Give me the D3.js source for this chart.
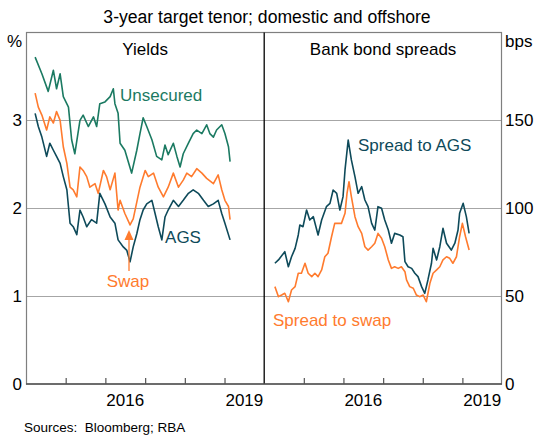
<!DOCTYPE html>
<html><head><meta charset="utf-8">
<script src="https://cdn.jsdelivr.net/npm/d3@7"></script>
<style>
body{margin:0;background:#fff;}
text{font-family:"Liberation Sans",Arial,sans-serif;}
</style></head>
<body><svg id="c" width="535" height="436"></svg>
<script>
// ---- data (decimal year, value) ----
const unsecured = [[2014.23,3.72],[2014.40,3.53],[2014.56,3.33],[2014.69,3.57],[2014.77,3.36],[2014.86,3.53],[2014.94,3.27],[2015.07,3.15],[2015.15,2.78],[2015.23,2.62],[2015.36,3.00],[2015.44,3.06],[2015.57,2.93],[2015.70,3.04],[2015.78,2.93],[2015.86,3.19],[2015.99,3.21],[2016.12,3.27],[2016.20,3.36],[2016.24,3.19],[2016.32,3.08],[2016.37,2.74],[2016.49,2.66],[2016.66,2.40],[2016.79,2.66],[2016.87,2.85],[2016.95,3.03],[2017.04,2.93],[2017.17,2.78],[2017.29,2.59],[2017.42,2.55],[2017.50,2.72],[2017.58,2.61],[2017.71,2.74],[2017.80,2.59],[2017.88,2.47],[2017.96,2.62],[2018.09,2.74],[2018.21,2.85],[2018.30,2.89],[2018.43,2.85],[2018.55,2.95],[2018.63,2.85],[2018.72,2.81],[2018.80,2.89],[2018.93,2.95],[2019.01,2.85],[2019.10,2.70],[2019.14,2.53]];
const swap = [[2014.23,3.31],[2014.31,3.15],[2014.40,3.06],[2014.52,2.89],[2014.60,3.04],[2014.69,2.97],[2014.77,3.10],[2014.86,3.00],[2014.94,2.70],[2015.03,2.51],[2015.11,2.24],[2015.19,2.21],[2015.28,2.13],[2015.36,2.47],[2015.44,2.43],[2015.53,2.36],[2015.61,2.24],[2015.74,2.28],[2015.82,2.17],[2015.95,2.43],[2016.03,2.36],[2016.12,2.21],[2016.24,2.40],[2016.32,1.98],[2016.37,2.09],[2016.49,1.94],[2016.62,1.81],[2016.70,1.88],[2016.87,2.24],[2017.00,2.43],[2017.08,2.36],[2017.21,2.40],[2017.33,2.24],[2017.46,2.13],[2017.58,2.24],[2017.71,2.40],[2017.84,2.24],[2017.96,2.32],[2018.05,2.40],[2018.17,2.36],[2018.30,2.45],[2018.43,2.40],[2018.55,2.34],[2018.72,2.28],[2018.84,2.38],[2018.93,2.21],[2019.01,2.09],[2019.10,2.02],[2019.14,1.87]];
const ags = [[2014.23,3.08],[2014.31,2.93],[2014.40,2.81],[2014.52,2.59],[2014.60,2.74],[2014.69,2.66],[2014.77,2.59],[2014.86,2.51],[2014.94,2.36],[2015.03,2.21],[2015.07,2.02],[2015.11,1.83],[2015.19,1.79],[2015.28,1.70],[2015.36,1.98],[2015.44,1.90],[2015.53,1.79],[2015.65,1.87],[2015.78,1.83],[2015.86,2.17],[2015.99,2.05],[2016.12,1.90],[2016.24,1.83],[2016.32,1.64],[2016.45,1.56],[2016.54,1.52],[2016.62,1.39],[2016.70,1.56],[2016.79,1.71],[2016.87,1.87],[2016.95,1.98],[2017.04,2.05],[2017.17,2.09],[2017.25,1.94],[2017.33,1.79],[2017.42,1.64],[2017.50,1.90],[2017.58,1.98],[2017.71,2.09],[2017.84,2.02],[2017.96,2.09],[2018.09,2.17],[2018.21,2.21],[2018.34,2.17],[2018.47,2.09],[2018.59,2.02],[2018.72,2.05],[2018.84,2.09],[2018.93,1.94],[2019.01,1.83],[2019.14,1.64]];
const spreadAgs = [[2014.27,68.7],[2014.36,70.6],[2014.52,75.3],[2014.61,66.7],[2014.69,72.4],[2014.78,77.2],[2014.86,84.8],[2014.90,90.5],[2014.98,89.5],[2015.07,99.0],[2015.15,93.3],[2015.24,95.2],[2015.36,84.8],[2015.45,93.3],[2015.57,100.9],[2015.66,102.8],[2015.74,110.4],[2015.83,108.5],[2015.91,99.0],[2015.99,106.6],[2016.04,121.8],[2016.12,138.8],[2016.20,127.5],[2016.29,118.0],[2016.37,108.5],[2016.46,112.3],[2016.54,104.7],[2016.62,100.9],[2016.71,91.4],[2016.79,87.6],[2016.87,100.9],[2016.96,100.0],[2017.04,93.3],[2017.13,87.6],[2017.21,80.1],[2017.29,85.7],[2017.42,84.8],[2017.50,83.8],[2017.55,69.6],[2017.63,66.7],[2017.72,65.8],[2017.80,63.0],[2017.88,61.1],[2017.97,55.4],[2018.05,51.6],[2018.13,59.2],[2018.22,68.7],[2018.26,77.2],[2018.35,70.6],[2018.43,78.1],[2018.51,88.6],[2018.60,80.1],[2018.72,76.2],[2018.81,80.1],[2018.89,87.6],[2018.93,97.1],[2019.02,102.8],[2019.10,95.2],[2019.17,85.7]];
const spreadSwap = [[2014.27,55.4],[2014.36,49.7],[2014.44,50.6],[2014.52,51.6],[2014.61,46.8],[2014.69,53.5],[2014.78,55.4],[2014.86,63.0],[2014.94,63.0],[2015.03,68.7],[2015.11,63.0],[2015.20,61.1],[2015.28,63.0],[2015.36,61.1],[2015.45,64.9],[2015.53,72.4],[2015.61,74.4],[2015.70,83.8],[2015.78,91.4],[2015.87,91.4],[2015.95,91.4],[2016.04,97.1],[2016.09,108.5],[2016.14,115.1],[2016.20,106.6],[2016.29,95.2],[2016.37,89.5],[2016.46,85.7],[2016.54,78.1],[2016.62,76.2],[2016.71,78.1],[2016.79,80.1],[2016.87,85.7],[2016.96,82.9],[2017.04,78.1],[2017.13,70.6],[2017.21,65.8],[2017.29,66.7],[2017.38,65.8],[2017.46,66.7],[2017.55,63.9],[2017.59,59.2],[2017.67,55.4],[2017.76,54.5],[2017.84,50.6],[2017.92,49.7],[2018.01,50.6],[2018.09,46.8],[2018.18,57.3],[2018.26,63.0],[2018.35,64.9],[2018.43,66.7],[2018.51,70.6],[2018.60,72.4],[2018.68,71.5],[2018.76,68.7],[2018.85,72.4],[2018.93,83.8],[2019.00,91.4],[2019.08,83.8],[2019.17,76.2]];
const leftTicks = [0,1,2,3];
const rightTicks = [0,50,100,150];
const yearLabels = [2016,2019];
const tickYears = [2015,2016,2017,2018,2019];

// ---- layout ----
const L=26, M=264.2, R=502, T=32.5, B=384;
const C = {unsec:"#1b7a62", ags:"#0e4a5a", swap:"#ff7b2e", grid:"#a6a6a6"};
const svg = d3.select("#c");
const toDate = y => { const yr=Math.floor(y); const f=y-yr; const s=new Date(yr,0,1), e=new Date(yr+1,0,1); return new Date(+s + f*(e-s)); };
const xL = d3.scaleTime().domain([new Date(2014,0,1), new Date(2020,0,1)]).range([L,M]);
const xR = d3.scaleTime().domain([new Date(2014,0,1), new Date(2020,0,1)]).range([M,R]);
const yL = d3.scaleLinear().domain([0,4]).range([B,T]);
const yR = d3.scaleLinear().domain([0,200]).range([B,T]);

// gridlines
svg.append("g").selectAll("line").data(leftTicks.filter(d=>d>0)).join("line")
  .attr("x1",L).attr("x2",R).attr("y1",d=>Math.round(yL(d))+0.5).attr("y2",d=>Math.round(yL(d))+0.5)
  .attr("stroke",C.grid).attr("stroke-width",1);

// box
svg.append("rect").attr("x",L+0.5).attr("y",T).attr("width",R-L-1).attr("height",B-T)
  .attr("fill","none").attr("stroke","#7f7f7f").attr("stroke-width",1.2);
svg.append("line").attr("x1",M).attr("x2",M).attr("y1",T).attr("y2",B).attr("stroke","#000").attr("stroke-width",1.3);

// bottom axes
const axL = d3.axisBottom(xL).tickValues(tickYears.map(y=>new Date(y,0,1))).tickSize(-6).tickFormat("");
const axR = d3.axisBottom(xR).tickValues(tickYears.map(y=>new Date(y,0,1))).tickSize(-6).tickFormat("");
[axL,axR].forEach(ax=>{
  const g = svg.append("g").attr("transform",`translate(0,${B})`).call(ax);
  g.select(".domain").remove();
  g.selectAll("line").attr("stroke","#555").attr("stroke-width",1.2);
});
svg.append("line").attr("x1",L).attr("x2",R).attr("y1",B).attr("y2",B).attr("stroke","#555").attr("stroke-width",1.5);

// year labels
[xL,xR].forEach(x=>{
  svg.append("g").selectAll("text").data(yearLabels).join("text")
    .attr("x",d=>(x(new Date(d,0,1))+x(new Date(d+1,0,1)))/2).attr("y",406)
    .attr("text-anchor","middle").attr("font-size",17).attr("fill","#000").text(d=>d);
});

// y labels
svg.append("g").selectAll("text").data(leftTicks).join("text")
  .attr("x",22).attr("y",d=>yL(d)+6).attr("text-anchor","end").attr("font-size",17).text(d=>d);
svg.append("g").selectAll("text").data(rightTicks).join("text")
  .attr("x",505).attr("y",d=>yR(d)+6).attr("text-anchor","start").attr("font-size",17).text(d=>d);
svg.append("text").attr("x",22).attr("y",47).attr("text-anchor","end").attr("font-size",17).text("%");
svg.append("text").attr("x",505).attr("y",47).attr("font-size",17).text("bps");

// titles
svg.append("text").attr("x",267).attr("y",23).attr("text-anchor","middle").attr("font-size",17.6).text("3-year target tenor; domestic and offshore");
svg.append("text").attr("x",(L+M)/2).attr("y",55).attr("text-anchor","middle").attr("font-size",17).text("Yields");
svg.append("text").attr("x",(M+R)/2).attr("y",55).attr("text-anchor","middle").attr("font-size",17).text("Bank bond spreads");
svg.append("text").attr("x",24).attr("y",432).attr("font-size",13.5).text("Sources:\u00a0\u00a0Bloomberg; RBA");

// lines
const lineL = d3.line().x(d=>xL(toDate(d[0]))).y(d=>yL(d[1]));
const lineR = d3.line().x(d=>xR(toDate(d[0]))).y(d=>yR(d[1]));
const series = [[unsecured,lineL,C.unsec],[swap,lineL,C.swap],[ags,lineL,C.ags],[spreadSwap,lineR,C.swap],[spreadAgs,lineR,C.ags]];
series.forEach(([data,gen,col])=>{
  svg.append("path").attr("d",gen(data)).attr("fill","none").attr("stroke",col).attr("stroke-width",1.6).attr("stroke-linejoin","round");
});

// series labels
svg.append("text").attr("x",120).attr("y",101).attr("font-size",17).attr("fill",C.unsec).text("Unsecured");
svg.append("text").attr("x",183).attr("y",243).attr("text-anchor","middle").attr("font-size",17).attr("fill",C.ags).text("AGS");
svg.append("text").attr("x",128).attr("y",287).attr("text-anchor","middle").attr("font-size",17).attr("fill",C.swap).text("Swap");
svg.append("text").attr("x",358).attr("y",151).attr("font-size",17).attr("fill",C.ags).text("Spread to AGS");
svg.append("text").attr("x",273).attr("y",326).attr("font-size",17).attr("fill",C.swap).text("Spread to swap");
// arrow
svg.append("line").attr("x1",129).attr("x2",129).attr("y1",271).attr("y2",238).attr("stroke",C.swap).attr("stroke-width",1.3);
svg.append("path").attr("d",`M124.5,240 L129,230 L133.5,240 Z`).attr("fill",C.swap);
</script></body></html>
